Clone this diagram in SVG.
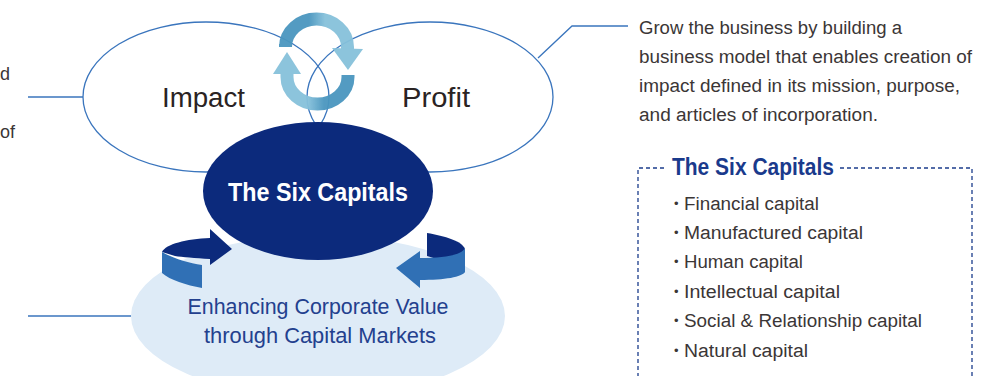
<svg xmlns="http://www.w3.org/2000/svg" width="1008" height="376" viewBox="0 0 1008 376">
<style>
.outline{fill:none;stroke:#3a75bd;stroke-width:1.3}
.conn{fill:none;stroke:#3a75bd;stroke-width:1.3}
.body{font-family:"Liberation Sans",Arial,sans-serif;font-size:18px;fill:#3b3636}
.big{font-family:"Liberation Sans",Arial,sans-serif;font-size:27px;fill:#2a2323}
.navyb{font-family:"Liberation Sans",Arial,sans-serif;font-weight:bold;fill:#1a3a8c}
.mk{font-family:"Liberation Sans",Arial,sans-serif;font-size:22px;fill:#23408e}
.bul{font-family:"Liberation Sans",Arial,sans-serif;font-size:13px;fill:#3b3636}
</style>
<defs>
<linearGradient id="gTop" gradientUnits="userSpaceOnUse" x1="309" y1="0" x2="325" y2="0">
<stop offset="0" stop-color="#4a96bf"/><stop offset="1" stop-color="#86c1db"/>
</linearGradient>
<linearGradient id="gBot" gradientUnits="userSpaceOnUse" x1="308" y1="0" x2="324" y2="0">
<stop offset="0" stop-color="#86c1db"/><stop offset="1" stop-color="#4a96bf"/>
</linearGradient>
</defs>
<rect width="1008" height="376" fill="#ffffff"/>

<g id="left-cut-text">
<text class="body" x="0" y="80">d</text>
<text class="body" x="0" y="138">of</text>
</g>

<g id="connectors">
<line class="conn" x1="28" y1="97" x2="83" y2="97"/>
<line class="conn" x1="28" y1="316" x2="131" y2="316"/>
<polyline class="conn" points="538,58 572,26 628,26"/>
</g>

<g id="node-capital-markets">
<ellipse cx="318" cy="316" rx="187" ry="81" fill="#deebf7"/>
<text class="mk" x="318" y="314" text-anchor="middle" textLength="261" lengthAdjust="spacingAndGlyphs">Enhancing Corporate Value</text>
<text class="mk" x="320" y="343" text-anchor="middle" textLength="232" lengthAdjust="spacingAndGlyphs">through Capital Markets</text>
</g>

<g id="node-impact">
<ellipse class="outline" cx="206" cy="97" rx="123" ry="75"/>
<text class="big" x="162" y="107" textLength="83" lengthAdjust="spacingAndGlyphs">Impact</text>
</g>

<g id="node-profit">
<ellipse class="outline" cx="430" cy="97" rx="123" ry="75"/>
<text class="big" x="402" y="107" textLength="68" lengthAdjust="spacingAndGlyphs">Profit</text>
</g>

<g id="node-cycle-arrows" opacity="0.95">
<path d="M285.5,44 L285.5,47 A31,28 0 0 1 347.5,47 L347.5,49" fill="none" stroke="url(#gTop)" stroke-width="13"/>
<polygon points="332,48 363,49 348,70" fill="#86c1db"/>
<path d="M348,75 L348,77 A30.5,27 0 0 1 287,77 L287,74" fill="none" stroke="url(#gBot)" stroke-width="13"/>
<polygon points="273,74 301,74 287,52" fill="#86c1db"/>
</g>

<g id="node-six-capitals">
<ellipse cx="318" cy="191" rx="115" ry="69" fill="#0c2a7c"/>
<text x="318" y="201" text-anchor="middle" font-family="Liberation Sans, Arial, sans-serif" font-weight="bold" font-size="26" fill="#ffffff" textLength="180" lengthAdjust="spacingAndGlyphs">The Six Capitals</text>
</g>

<g id="node-capital-arrows">
<path d="M162,252 C166,244 186,239 210,238 L210,229 L232,249 L210,265 L210,259 C195,258 182,257 175,256 Z" fill="#0c2a7c"/>
<path d="M162,252 C172,258 188,263 202,265 L202,288 C186,285 170,280 162,273 Z" fill="#3070b5"/>
<path d="M427,233 C445,236 462,241 465,249 L465,262 L440,260 L427,256 Z" fill="#0c2a7c"/>
<path d="M465,248 C462,255 445,258 420,258 L420,251 L396,268 L420,288 L420,280 C445,280 462,277 465,272 Z" fill="#3070b5"/>
</g>

<g id="node-profit-text">
<text class="body" x="639" y="34" textLength="263" lengthAdjust="spacingAndGlyphs">Grow the business by building a</text>
<text class="body" x="639" y="63" textLength="333" lengthAdjust="spacingAndGlyphs">business model that enables creation of</text>
<text class="body" x="639" y="92" textLength="321" lengthAdjust="spacingAndGlyphs">impact defined in its mission, purpose,</text>
<text class="body" x="639" y="121" textLength="239" lengthAdjust="spacingAndGlyphs">and articles of incorporation.</text>
</g>

<g id="node-six-list">
<path d="M664,168 L638,168 L638,376 M972,376 L972,168 L838,168" fill="none" stroke="#1b3c8c" stroke-width="1.3" stroke-dasharray="4,3"/>
<text class="navyb" x="672" y="175" font-size="23" textLength="162" lengthAdjust="spacingAndGlyphs">The Six Capitals</text>
<text class="bul" x="674" y="208">•</text>
<text class="body" x="684" y="210" textLength="135" lengthAdjust="spacingAndGlyphs">Financial capital</text>
<text class="bul" x="674" y="237">•</text>
<text class="body" x="684" y="239" textLength="179" lengthAdjust="spacingAndGlyphs">Manufactured capital</text>
<text class="bul" x="674" y="266">•</text>
<text class="body" x="684" y="268" textLength="119" lengthAdjust="spacingAndGlyphs">Human capital</text>
<text class="bul" x="674" y="296">•</text>
<text class="body" x="684" y="298" textLength="156" lengthAdjust="spacingAndGlyphs">Intellectual capital</text>
<text class="bul" x="674" y="325">•</text>
<text class="body" x="684" y="327" textLength="238" lengthAdjust="spacingAndGlyphs">Social &amp; Relationship capital</text>
<text class="bul" x="674" y="355">•</text>
<text class="body" x="684" y="357" textLength="124" lengthAdjust="spacingAndGlyphs">Natural capital</text>
</g>
</svg>
